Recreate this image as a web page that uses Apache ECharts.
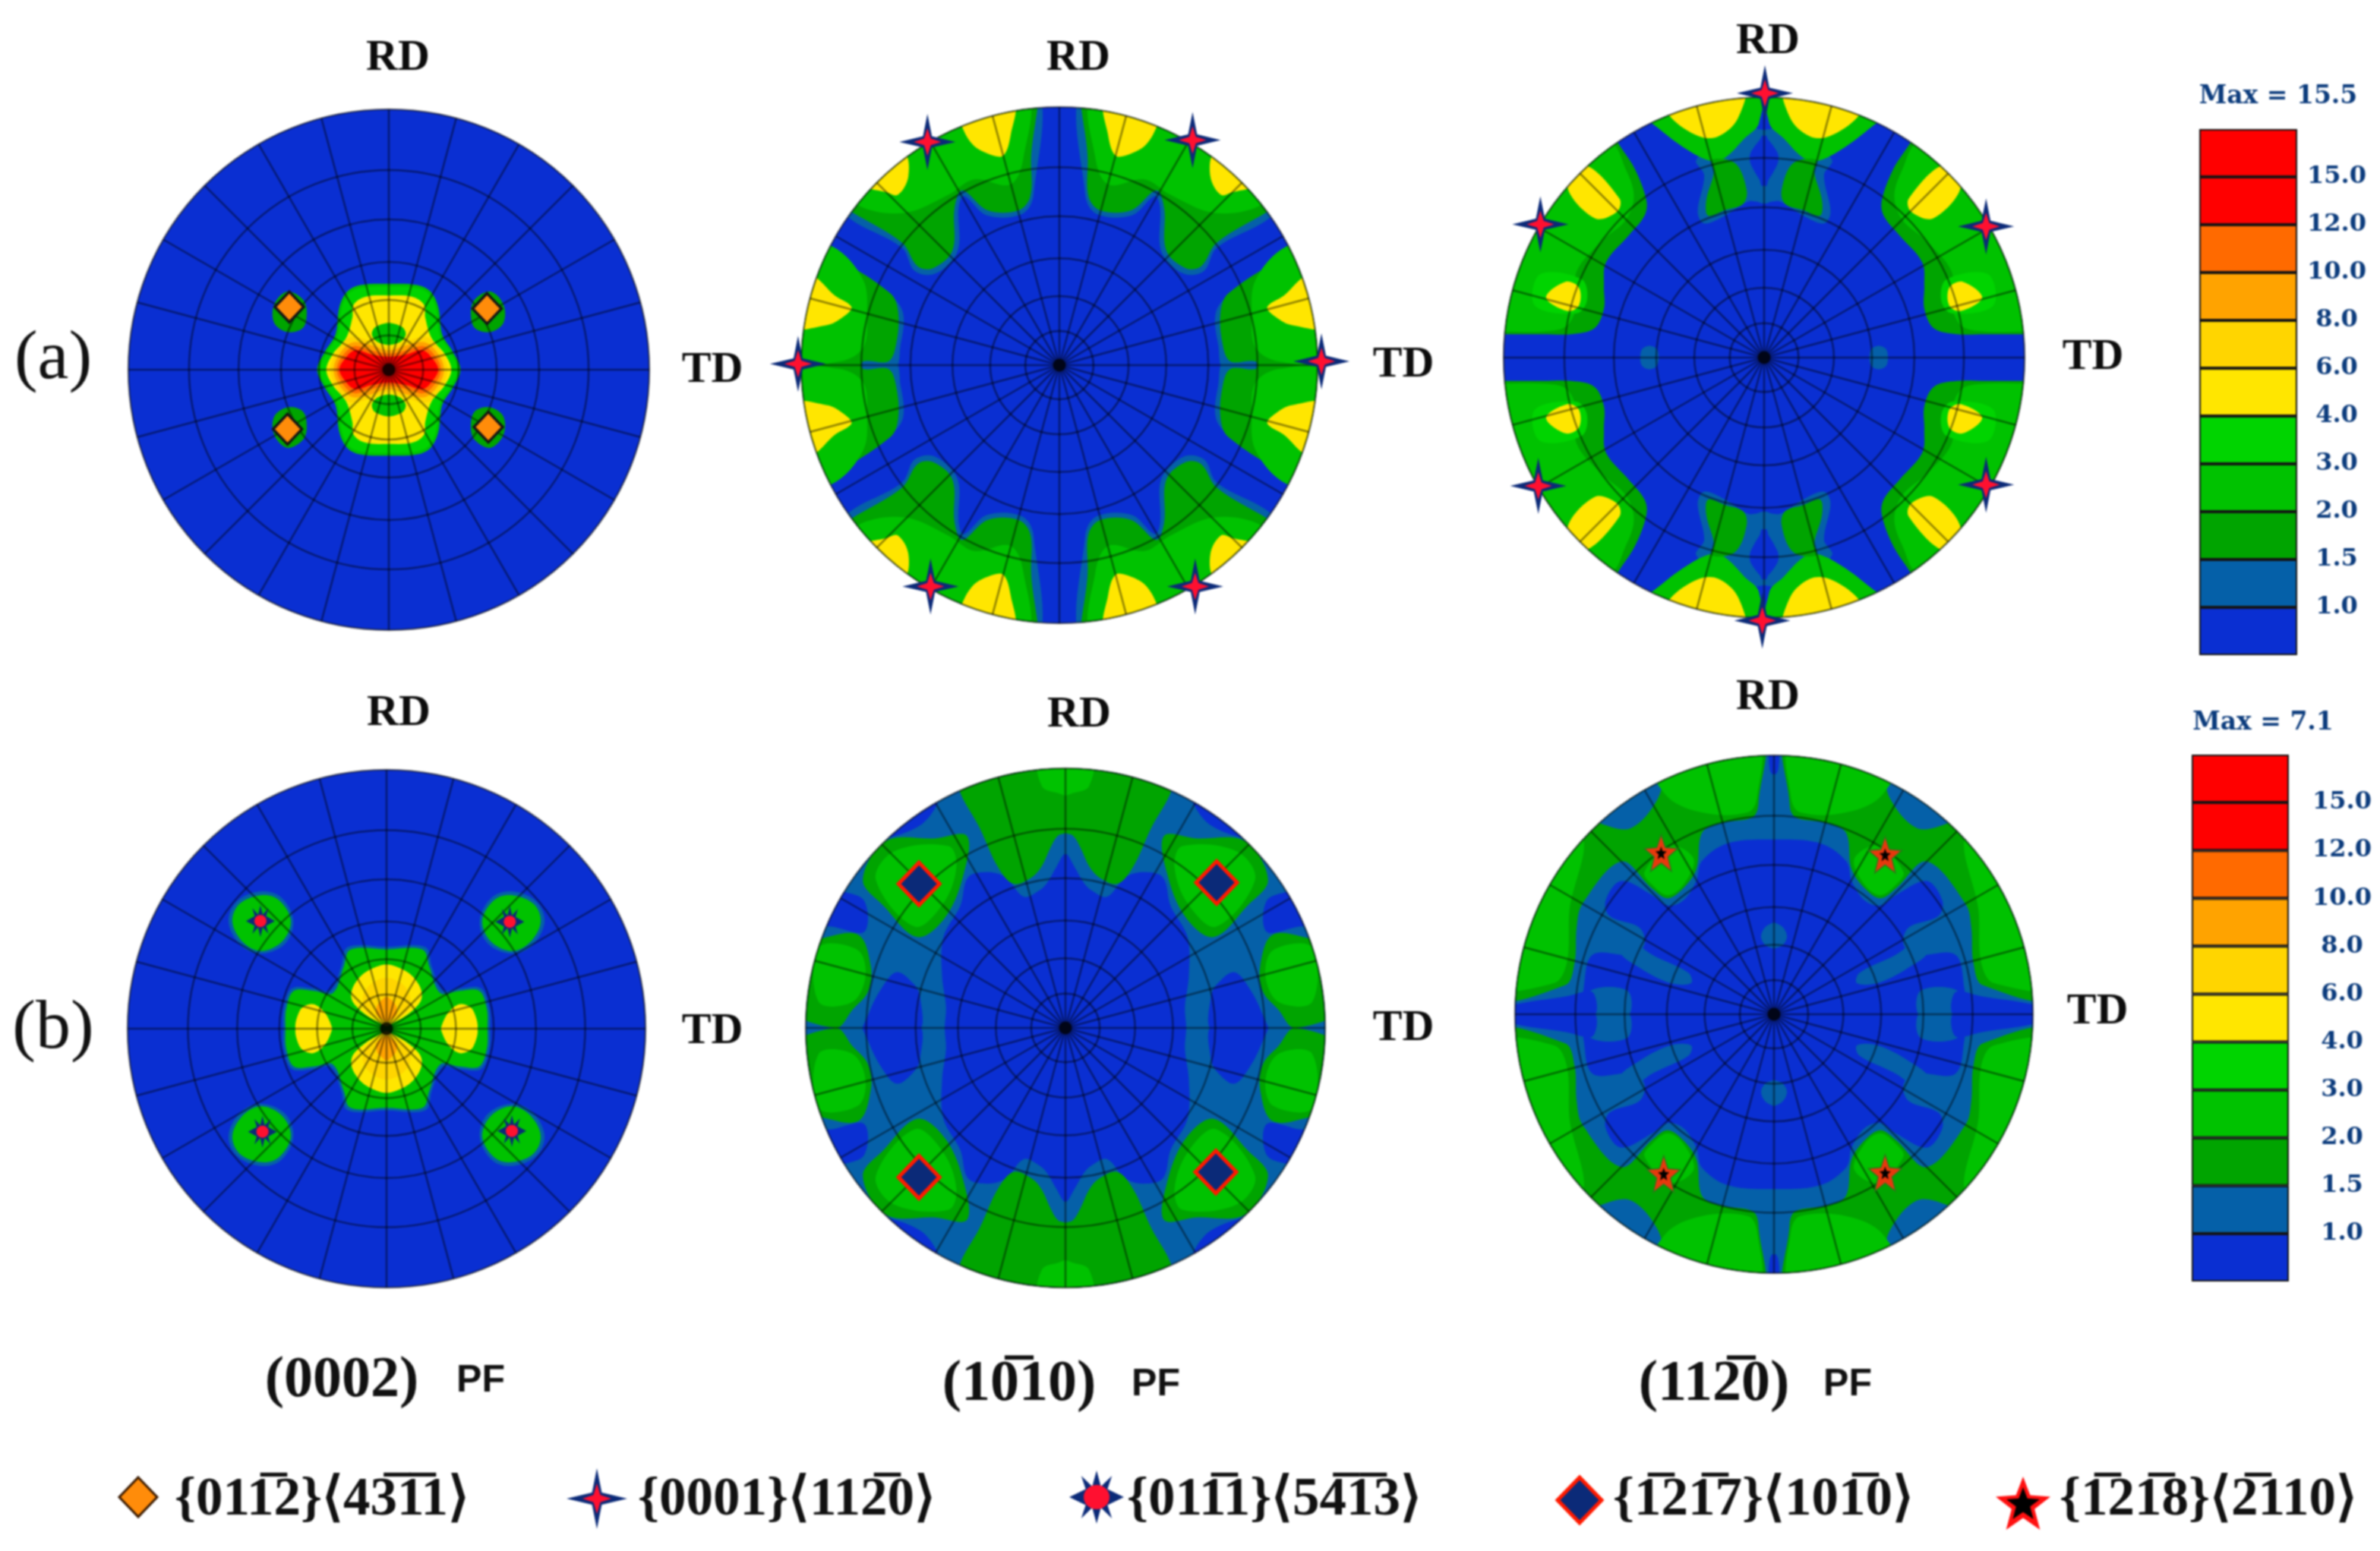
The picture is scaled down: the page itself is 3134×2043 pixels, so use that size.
<!DOCTYPE html>
<html>
<head>
<meta charset="utf-8">
<style>
html,body{margin:0;padding:0;background:#fff}
#main{width:3134px;height:2043px}
#main canvas{filter:blur(1.2px)}
</style>
<script src="https://cdn.jsdelivr.net/npm/echarts@6/dist/echarts.min.js"></script>
</head>
<body>
<div id="main"></div>
<script>
// colour scale, bottom band first
var levelColors = ['#0a2fd2','#0560a8','#00a400','#00c200','#00d400','#ffe600','#ffd500','#ffa300','#ff6a00','#ff0000','#ff0000'];
var bandValues = [1,1,1,1,1,1,1,1,1,1,1];
var tickLabels = ['1.0','1.5','2.0','3.0','4.0','6.0','8.0','10.0','12.0','15.0'];

// stereographic rings and 15 degree spokes of the pole figure net
var ringRadii = [0.132,0.268,0.414,0.577,0.767,1];
var discBase = [[-1.4,-1.4],[-1.4,1.4],[1.4,1.4],[1.4,-1.4]];

// contours, one quadrant each, x to TD and y to RD, disc radius = 1
var a1Halo = [[0,.33],[.11,.325],[.16,.3],[.19,.24],[.205,.135],[.245,.07],[.275,0]];
var a1Green = [[0,.32],[.1,.315],[.15,.295],[.18,.24],[.195,.135],[.235,.07],[.265,0]];
var a1Yellow = [[0,.285],[.09,.28],[.135,.25],[.14,.2],[.165,.12],[.215,.06],[.24,0]];
var a1Hole = [[-.01,.1],[.04,.105],[.065,.135],[.05,.165],[-.01,.175]];
var a1Gold = [[0,.085],[.07,.11],[.15,.125],[.2,.07],[.225,0]];
var a1Orange = [[0,.075],[.07,.095],[.14,.105],[.19,.06],[.212,0]];
var a1Dark = [[0,.062],[.07,.075],[.135,.09],[.18,.05],[.2,0]];
var a1Red = [[0,.05],[.07,.06],[.13,.075],[.17,.04],[.19,0]];
var a1Spot = [[.33,.27],[.39,.3],[.44,.25],[.44,.18],[.39,.145],[.33,.16],[.315,.22]];

var a2TealTop = [[.1,1.1],[.1,.66],[.145,.585],[.28,.58],[.37,.655],[.39,.61],[.395,.44],[.48,.355],[.56,.365],[.61,.455],[.82,.575],[.9,.7],[.5,1.15]];
var a2TealSide = [[.91,.41],[.65,.265],[.605,.2],[.615,.08],[.645,-.02],[1.1,-.02],[1.1,.5]];
var a2DarkTop = [[.11,1.15],[.11,.79],[.113,.654],[.158,.6],[.278,.6],[.376,.677],[.406,.609],[.414,.444],[.489,.376],[.549,.383],[.609,.474],[.805,.594],[.85,.624],[1.1,.9],[.5,1.15]];
var a2DarkSide = [[.895,.429],[.654,.278],[.624,.203],[.632,.083],[.662,.015],[.76,.015],[.775,-.02],[1.1,-.02],[1.1,.5]];
var a2GreenTop = [[.135,1.05],[.14,.8],[.19,.7],[.33,.72],[.43,.66],[.6,.59],[.78,.62],[1,.8],[.6,1.1]];
var a2GreenSide = [[.88,.46],[.76,.33],[.745,.188],[.76,.068],[.85,.015],[1.1,.02],[1.1,.5]];
var a2YellowA = [[.18,1.02],[.188,.895],[.218,.812],[.278,.82],[.338,.857],[.383,.94],[.4,1.02]];
var a2YellowB = [[.6,.82],[.585,.73],[.625,.66],[.67,.67],[.76,.7],[.72,.8]];
var a2YellowC = [[.96,.35],[.87,.27],[.805,.225],[.84,.185],[.9,.155],[1.05,.15],[1.05,.35]];

var a3Teal = [[-.02,.6],[.06,.6],[.15,.545],[.23,.515],[.255,.56],[.23,.7],[.26,.76],[.1,.9],[.03,.88],[-.02,.86]];
var a3Notch = [[-.01,.85],[.05,.79],[.05,.74],[-.01,.66]];
var a3TopLobe = [[.015,1.1],[.02,.9],[.074,.843],[.148,.769],[.2,.754],[.296,.799],[.415,.888],[.46,.93],[.5,1.1]];
var a3Finger = [[.111,.746],[.067,.642],[.081,.59],[.148,.567],[.215,.545],[.222,.604],[.193,.709],[.2,.76]];
var a3Dark = [[.563,.828],[.496,.724],[.452,.604],[.459,.545],[.519,.47],[.607,.366],[.615,.276],[.615,.187],[.652,.112],[.741,.09],[.85,.09],[1,.09],[1.2,.09],[1.2,.9],[.6,.9]];
var a3Green = [[.6,.83],[.53,.72],[.5,.62],[.53,.53],[.62,.45],[.72,.33],[.72,.2],[.76,.12],[.85,.1],[1,.1],[1.2,.1],[1.2,.8]];
var a3Bright = [[.7,.3],[.86,.32],[.88,.2],[.72,.17],[.68,.22]];
var a3YellowA = [[.555,.61],[.565,.56],[.65,.535],[.755,.655],[.69,.74]];
var a3YellowB = [[.711,.269],[.763,.291],[.837,.231],[.756,.179],[.711,.2]];
var a3YellowC = [[.08,1.05],[.1,.92],[.175,.85],[.25,.85],[.36,.925],[.4,1.02]];
var a3Speck = [[.41,-.01],[.41,.03],[.44,.045],[.47,.03],[.47,-.01]];

var b1Halo = [[0,.316],[.15,.315],[.175,.24],[.215,.148],[.282,.156],[.365,.156],[.397,.078],[.4,0]];
var b1Green = [[0,.306],[.14,.305],[.165,.24],[.207,.138],[.282,.146],[.358,.146],[.387,.078],[.39,0]];
var b1YellowTop = [[-.01,.24],[.07,.225],[.125,.17],[.135,.115],[.1,.07],[.04,.03],[-.01,.015]];
var b1GoldTop = [[-.01,.19],[.05,.18],[.09,.13],[.08,.07],[.03,.04],[-.01,.03]];
var b1OrangeTop = [[-.01,.12],[.03,.1],[.04,.06],[.015,.035],[-.01,.03]];
var b1Wing = [[.215,-.01],[.22,.03],[.25,.075],[.29,.095],[.335,.07],[.345,-.01]];
var b1SpotHalo = [[.36,.42],[.41,.51],[.49,.53],[.58,.49],[.61,.41],[.56,.32],[.48,.29],[.39,.33]];
var b1Spot = [[.37,.42],[.42,.5],[.49,.515],[.57,.48],[.595,.41],[.55,.33],[.48,.3],[.4,.34]];

var b2Teal = [[-.2,-.2],[-.2,1.4],[1.4,1.4],[1.4,-.2]];
var b2Core = [[0,.67],[.035,.62],[.07,.56],[.1,.53],[.16,.505],[.23,.58],[.3,.6],[.375,.58],[.405,.47],[.47,.35],[.475,.2],[.46,.08],[.465,0]];
var b2Pocket = [[.565,-.01],[.56,.12],[.585,.17],[.65,.215],[.71,.15],[.76,.05],[.775,-.01]];
var b2EdgeA = [[.49,.9],[.5,.85],[.56,.78],[.69,.73],[.8,.72],[.75,.95]];
var b2EdgeB = [[.775,.49],[.775,.37],[.9,.39],[1.05,.4],[.95,.56],[.87,.53]];
var b2TopBand = [[-.01,.76],[.03,.74],[.06,.69],[.09,.625],[.13,.58],[.2,.555],[.26,.62],[.33,.77],[.41,.92],[.42,1.05],[-.01,1.05]];
var b2TopSpot = [[-.01,1.05],[.105,1.05],[.09,.93],[.03,.905],[-.01,.9]];
var b2Lobe = [[.38,.74],[.5,.73],[.69,.72],[.78,.57],[.7,.47],[.57,.35],[.46,.43],[.39,.6]];
var b2LobeIn = [[.45,.7],[.66,.68],[.73,.57],[.58,.39],[.47,.48],[.42,.62]];
var b2Side = [[.97,.34],[.8,.36],[.75,.24],[.76,.14],[.82,.07],[.885,0],[1.1,.1],[1.1,.34]];
var b2SideIn = [[.95,.31],[.8,.3],[.77,.2],[.82,.1],[.95,.1]];

var b3Teal = [[-.2,-.2],[-.2,1.4],[1.4,1.4],[1.4,-.2]];
var b3Core = [[0,.675],[.18,.66],[.28,.59],[.3,.515],[.35,.44],[.41,.42],[.47,.46],[.59,.515],[.65,.44],[.635,.38],[.52,.335],[.5,.27],[.55,.23],[.7,.23],[.735,.1],[.74,0]];
var b3Finger = [[.32,.12],[.33,.16],[.5,.25],[.56,.35],[.6,.25],[.52,.18],[.4,.12]];
var b3Box = [[.565,-.01],[.565,.09],[.71,.09],[.715,-.01]];
var b3Oval = [[-.01,.26],[.03,.265],[.05,.3],[.03,.34],[-.01,.35]];
var b3Wedge = [[.7,-.01],[.7,.085],[.8,.07],[1.05,.025],[1.05,-.01]];
var b3Strip = [[-.01,1.05],[.015,1.05],[.015,.94],[-.01,.93]];
var b3Band = [[.067,1.1],[.06,.815],[.082,.762],[.2,.74],[.277,.703],[.3,.56],[.351,.486],[.411,.448],[.471,.486],[.59,.59],[.74,.426],[.762,.336],[.77,.2],[.807,.112],[1.1,.08],[1.1,1.1]];
var b3Patch = [[.44,.92],[.45,.83],[.55,.72],[.65,.73],[.72,.78],[.6,.95]];
var b3BrightTop = [[.07,1.05],[.065,.84],[.1,.78],[.28,.78],[.42,.85],[.5,1.05]];
var b3BrightSide = [[.75,.7],[.79,.4],[.8,.2],[.85,.12],[1.1,.12],[1.1,.7]];
var b3BrightSpot = [[.31,.6],[.35,.5],[.41,.46],[.47,.5],[.5,.55],[.4,.65]];

// layers drawn in order: [level, 'loop' around centre or 'quad' copy in each quadrant, contour]
var fieldA1 = [[3,'loop',a1Halo],[4,'loop',a1Green],[5,'loop',a1Yellow],[3,'quad',a1Hole],[6,'loop',a1Gold],[7,'loop',a1Orange],[8,'loop',a1Dark],[9,'loop',a1Red],[2,'quad',a1Spot]];
var fieldA2 = [[1,'quad',a2TealTop],[1,'quad',a2TealSide],[2,'quad',a2DarkTop],[2,'quad',a2DarkSide],[3,'quad',a2GreenTop],[3,'quad',a2GreenSide],[5,'quad',a2YellowA],[5,'quad',a2YellowB],[5,'quad',a2YellowC]];
var fieldA3 = [[1,'quad',a3Teal],[0,'quad',a3Notch],[3,'quad',a3TopLobe],[2,'quad',a3Finger],[2,'quad',a3Dark],[3,'quad',a3Green],[4,'quad',a3Bright],[5,'quad',a3YellowA],[5,'quad',a3YellowB],[5,'quad',a3YellowC],[1,'quad',a3Speck]];
var fieldB1 = [[1,'loop',b1Halo],[3,'loop',b1Green],[5,'quad',b1YellowTop],[6,'quad',b1GoldTop],[7,'quad',b1OrangeTop],[5,'quad',b1Wing],[1,'quad',b1SpotHalo],[3,'quad',b1Spot]];
var fieldB2 = [[1,'quad',b2Teal],[0,'loop',b2Core],[0,'quad',b2Pocket],[0,'quad',b2EdgeA],[0,'quad',b2EdgeB],[2,'quad',b2TopBand],[3,'quad',b2TopSpot],[2,'quad',b2Lobe],[3,'quad',b2LobeIn],[2,'quad',b2Side],[3,'quad',b2SideIn]];
var fieldB3 = [[1,'quad',b3Teal],[0,'loop',b3Core],[1,'quad',b3Finger],[1,'quad',b3Box],[1,'quad',b3Oval],[0,'quad',b3Wedge],[0,'quad',b3Strip],[2,'quad',b3Band],[1,'quad',b3Patch],[3,'quad',b3BrightTop],[3,'quad',b3BrightSide],[3,'quad',b3BrightSpot]];

// texture component positions, x to TD and y to RD
var marksA1 = [[-.382,.241],[.377,.235],[-.389,-.228],[.382,-.22]];
var marksA2 = [[-.511,.865],[.516,.872],[-1.012,.005],[1.015,.015],[-.499,-.857],[.526,-.857]];
var marksA3 = [[-.859,.512],[.852,.504],[-.867,-.493],[.852,-.488],[.003,1.015],[-.007,-1.01]];
var marksB1 = [[-.487,.416],[.476,.413],[-.479,-.398],[.484,-.395]];
var marksB2 = [[-.564,.555],[.582,.56],[-.564,-.575],[.579,-.555]];
var marksB3 = [[-.436,.623],[.429,.616],[-.426,-.617],[.429,-.613]];
var polePoint = [[0,0]];

var RHOMB = 'M50 0L100 50L50 100L0 50Z';
var STAR4 = 'M50 0L58 40L100 50L58 60L50 100L42 60L0 50L42 40Z';
var STAR4IN = 'M50 0L62 38L100 50L62 62L50 100L38 62L0 50L38 38Z';
var SUN8 = 'M50 0L58 30L78 10L70 35L100 50L70 65L78 90L58 70L50 100L42 70L22 90L30 65L0 50L30 35L22 10L42 30Z';
var STAR5 = 'M50 0L63 35L100 38L71 61L81 100L50 78L19 100L29 61L0 38L37 35Z';

var markStyles = {
    orange: [{sym:'diamond',size:[38,40],fill:'#ff8c0a',line:'#141414',lw:3.5}],
    cross: [{sym:'path://'+STAR4,size:[74,74],fill:'#0b2a78'},{sym:'path://'+STAR4IN,size:[36,36],fill:'#ff1030'}],
    sun: [{sym:'path://'+SUN8,size:[38,42],fill:'#0b2a78'},{sym:'circle',size:[16,16],fill:'#ff1030'}],
    rhomb: [{sym:'diamond',size:[54,56],fill:'#0b2a78',line:'#ff1a00',lw:5}],
    star: [{sym:'path://'+STAR5,size:[44,48],fill:'#e8380d',line:'#2a7a1a',lw:1.5},{sym:'path://'+STAR5,size:[15,17],fill:'#000'}]
};

var panels = [
    {c:[512,487],R:343,field:fieldA1,marks:marksA1,style:'orange',rd:[524,77],td:[938,488]},
    {c:[1395,481],R:340,field:fieldA2,marks:marksA2,style:'cross',rd:[1420,77],td:[1848,481]},
    {c:[2323,471],R:343,field:fieldA3,marks:marksA3,style:'cross',rd:[2328,55],td:[2756,471]},
    {c:[509,1355],R:341,field:fieldB1,marks:marksB1,style:'sun',rd:[525,940],td:[938,1359]},
    {c:[1403,1354],R:342,field:fieldB2,marks:marksB2,style:'rhomb',rd:[1421,942],td:[1848,1355]},
    {c:[2336,1336],R:341,field:fieldB3,marks:marksB3,style:'star',rd:[2328,919],td:[2762,1333]}
];

function toPolar(p) {
    var a = Math.atan2(p[0], p[1]) * 180 / Math.PI;
    return [Math.sqrt(p[0]*p[0] + p[1]*p[1]), a < 0 ? a + 360 : a];
}
function flip(pts, sx, sy) {
    return pts.map(function (p) { return [p[0]*sx, p[1]*sy]; });
}
function expandField(field) {
    var out = [{level:0, pts:discBase}];
    field.forEach(function (f) {
        if (f[1] === 'loop') {
            var q = f[2];
            out.push({level:f[0], pts:q.concat(flip(q,1,-1).reverse().slice(1), flip(q,-1,-1).slice(1), flip(q,-1,1).reverse().slice(1,-1))});
        } else {
            [[1,1],[-1,1],[-1,-1],[1,-1]].forEach(function (s) {
                out.push({level:f[0], pts:flip(f[2], s[0], s[1])});
            });
        }
    });
    return out;
}
function label(text, x, y, size, weight, family, fill, align) {
    return {type:'text', x:x, y:y, z:20, silent:true, style:{text:text, fontSize:size, fontWeight:weight, fontFamily:family, fill:fill,
        align:align||'center', verticalAlign:'middle', textAlign:align||'center', textVerticalAlign:'middle'}};
}
// the graphic component has no path shape, so legend swatches go in as polygons
function swatch(path, cx, cy, w, h, style) {
    var nums = path.match(/\d+/g).map(Number), pts = [];
    for (var i = 0; i < nums.length; i += 2) {
        pts.push([cx - w/2 + nums[i]*w/100, cy - h/2 + nums[i+1]*h/100]);
    }
    return {type:'polygon', z:20, silent:true, shape:{points:pts}, style:style};
}

var polar = [], angleAxis = [], radiusAxis = [], series = [], graphic = [];
var netLine = {color:'rgba(0,0,0,0.45)', width:2.5};

panels.forEach(function (pn, i) {
    polar.push({center:pn.c, radius:[0,pn.R]});
    angleAxis.push({polarIndex:i, type:'value', min:0, max:360, interval:15, startAngle:90, clockwise:true, z:4,
        axisLabel:{show:false}, axisTick:{show:false},
        axisLine:{show:true, lineStyle:{color:'rgba(0,0,0,0.2)', width:1.5}},
        splitLine:{show:true, lineStyle:netLine}});
    radiusAxis.push({polarIndex:i, type:'value', min:0, max:1, z:4,
        axisLabel:{show:false}, axisLine:{show:false},
        axisTick:{show:false, customValues:ringRadii},
        splitLine:{show:true, lineStyle:netLine}});
    var polys = expandField(pn.field);
    series.push({
        type:'custom', coordinateSystem:'polar', polarIndex:i, z:2, silent:true,
        data:polys.map(function (p, k) { return [k, 0]; }),
        renderItem:function (params, api) {
            var cs = params.coordSys, poly = polys[params.dataIndex];
            return {
                type:'polygon',
                shape:{points:poly.pts.map(function (p) { return api.coord(toPolar(p)); }), smooth:0.35},
                style:{fill:levelColors[poly.level]},
                clipPath:{type:'circle', shape:{cx:cs.cx, cy:cs.cy, r:cs.r}}
            };
        }
    });
    series.push({type:'scatter', coordinateSystem:'polar', polarIndex:i, z:5, silent:true, clip:false,
        symbol:'circle', symbolSize:17, itemStyle:{color:'#000'}, data:polePoint.map(toPolar)});
    markStyles[pn.style].forEach(function (s, k) {
        series.push({type:'scatter', coordinateSystem:'polar', polarIndex:i, z:6+k, silent:true, clip:false,
            symbol:s.sym, symbolSize:s.size,
            itemStyle:{color:s.fill, opacity:1, borderColor:s.line||'transparent', borderWidth:s.lw||0},
            data:pn.marks.map(toPolar)});
    });
    [['RD',pn.rd],['TD',pn.td]].forEach(function (t) {
        graphic.push(label(t[0], t[1][0], t[1][1], 58, 'bold', '"Liberation Serif"', '#0c0c0c'));
    });
});

graphic.push(label('(a)', 70, 474, 92, 'normal', '"Liberation Serif"', '#111'));
graphic.push(label('(b)', 70, 1356, 92, 'normal', '"Liberation Serif"', '#111'));

// colour bars
var bars = [
    {left:2896, right:3134-3025, top:170, height:693, margin:52, maxText:'Max = 15.5', maxAt:[3000,127]},
    {left:2886, right:3134-3014, top:994, height:694, margin:70, maxText:'Max = 7.1', maxAt:[2980,952]}
];
var grid = [], xAxis = [], yAxis = [];
bars.forEach(function (b, i) {
    grid.push({left:b.left, right:b.right, top:b.top, height:b.height});
    xAxis.push({type:'category', gridIndex:i, data:['c'], show:false});
    yAxis.push({type:'value', gridIndex:i, position:'right', min:0, max:11, interval:1,
        axisLine:{show:false}, axisTick:{show:false}, splitLine:{show:false},
        axisLabel:{margin:b.margin, align:'center', color:'#0b3b7c', fontSize:32, fontWeight:'bold', fontFamily:'"DejaVu Serif"',
            formatter:function (v) { return tickLabels[v-1] || ''; }}});
    bandValues.forEach(function (v, k) {
        series.push({type:'bar', xAxisIndex:i, yAxisIndex:i, stack:'bar'+i, barWidth:'100%', silent:true,
            data:[v], itemStyle:{color:levelColors[k], borderColor:'#141414', borderWidth:2}});
    });
    graphic.push(label(b.maxText, b.maxAt[0], b.maxAt[1], 33, 'bold', '"DejaVu Serif"', '#0b3b7c'));
});

// figure captions
var captions = [
    {text:'(0002)', x:450, y:1819, px:633},
    {text:'(10\u030510)', x:1342, y:1824, px:1522},
    {text:'(112\u03050)', x:2257, y:1824, px:2433}
];
captions.forEach(function (c) {
    graphic.push(label(c.text, c.x, c.y, 76, 'bold', '"Liberation Serif"', '#111'));
    graphic.push(label('PF', c.px, c.y, 50, 'bold', '"Liberation Sans"', '#111'));
});

// legend row
var legendNames = [
    '{011\u03052}\u27E843\u03051\u03051\u27E9',
    '{0001}\u27E8112\u03050\u27E9',
    '{011\u03051}\u27E854\u03051\u03053\u27E9',
    '{1\u030521\u03057}\u27E8101\u03050\u27E9',
    '{1\u030521\u03058}\u27E82\u0305110\u27E9'
];
var legendStarts = [230,840,1484,2124,2712];
legendNames.forEach(function (name, i) {
    graphic.push(label(name, legendStarts[i], 1977, 71, 'bold', '"Liberation Serif"', '#111', 'left'));
});
graphic.push(swatch(RHOMB, 182, 1972, 50, 52, {fill:'#ff8c0a', stroke:'#3a1a00', lineWidth:3}));
graphic.push(swatch(STAR4, 786, 1974, 80, 80, {fill:'#0b2a78'}));
graphic.push(swatch(STAR4IN, 786, 1974, 38, 40, {fill:'#ff1030'}));
graphic.push(swatch(SUN8, 1444, 1972, 72, 70, {fill:'#0b2a78'}));
graphic.push({type:'ellipse', z:21, silent:true, shape:{cx:1444, cy:1972, rx:17, ry:16}, style:{fill:'#ff1030'}});
graphic.push(swatch(RHOMB, 2080, 1976, 58, 60, {fill:'#0b2a78', stroke:'#ff1a00', lineWidth:5}));
graphic.push(swatch(STAR5, 2664, 1980, 72, 70, {fill:'#ff1010'}));
graphic.push(swatch(STAR5, 2664, 1980, 44, 42, {fill:'#000'}));

var myChart = echarts.init(document.getElementById('main'));
myChart.setOption({
    animation:false,
    backgroundColor:'#fff',
    polar:polar, angleAxis:angleAxis, radiusAxis:radiusAxis,
    grid:grid, xAxis:xAxis, yAxis:yAxis,
    series:series,
    graphic:{elements:graphic}
});
</script>
</body>
</html>
